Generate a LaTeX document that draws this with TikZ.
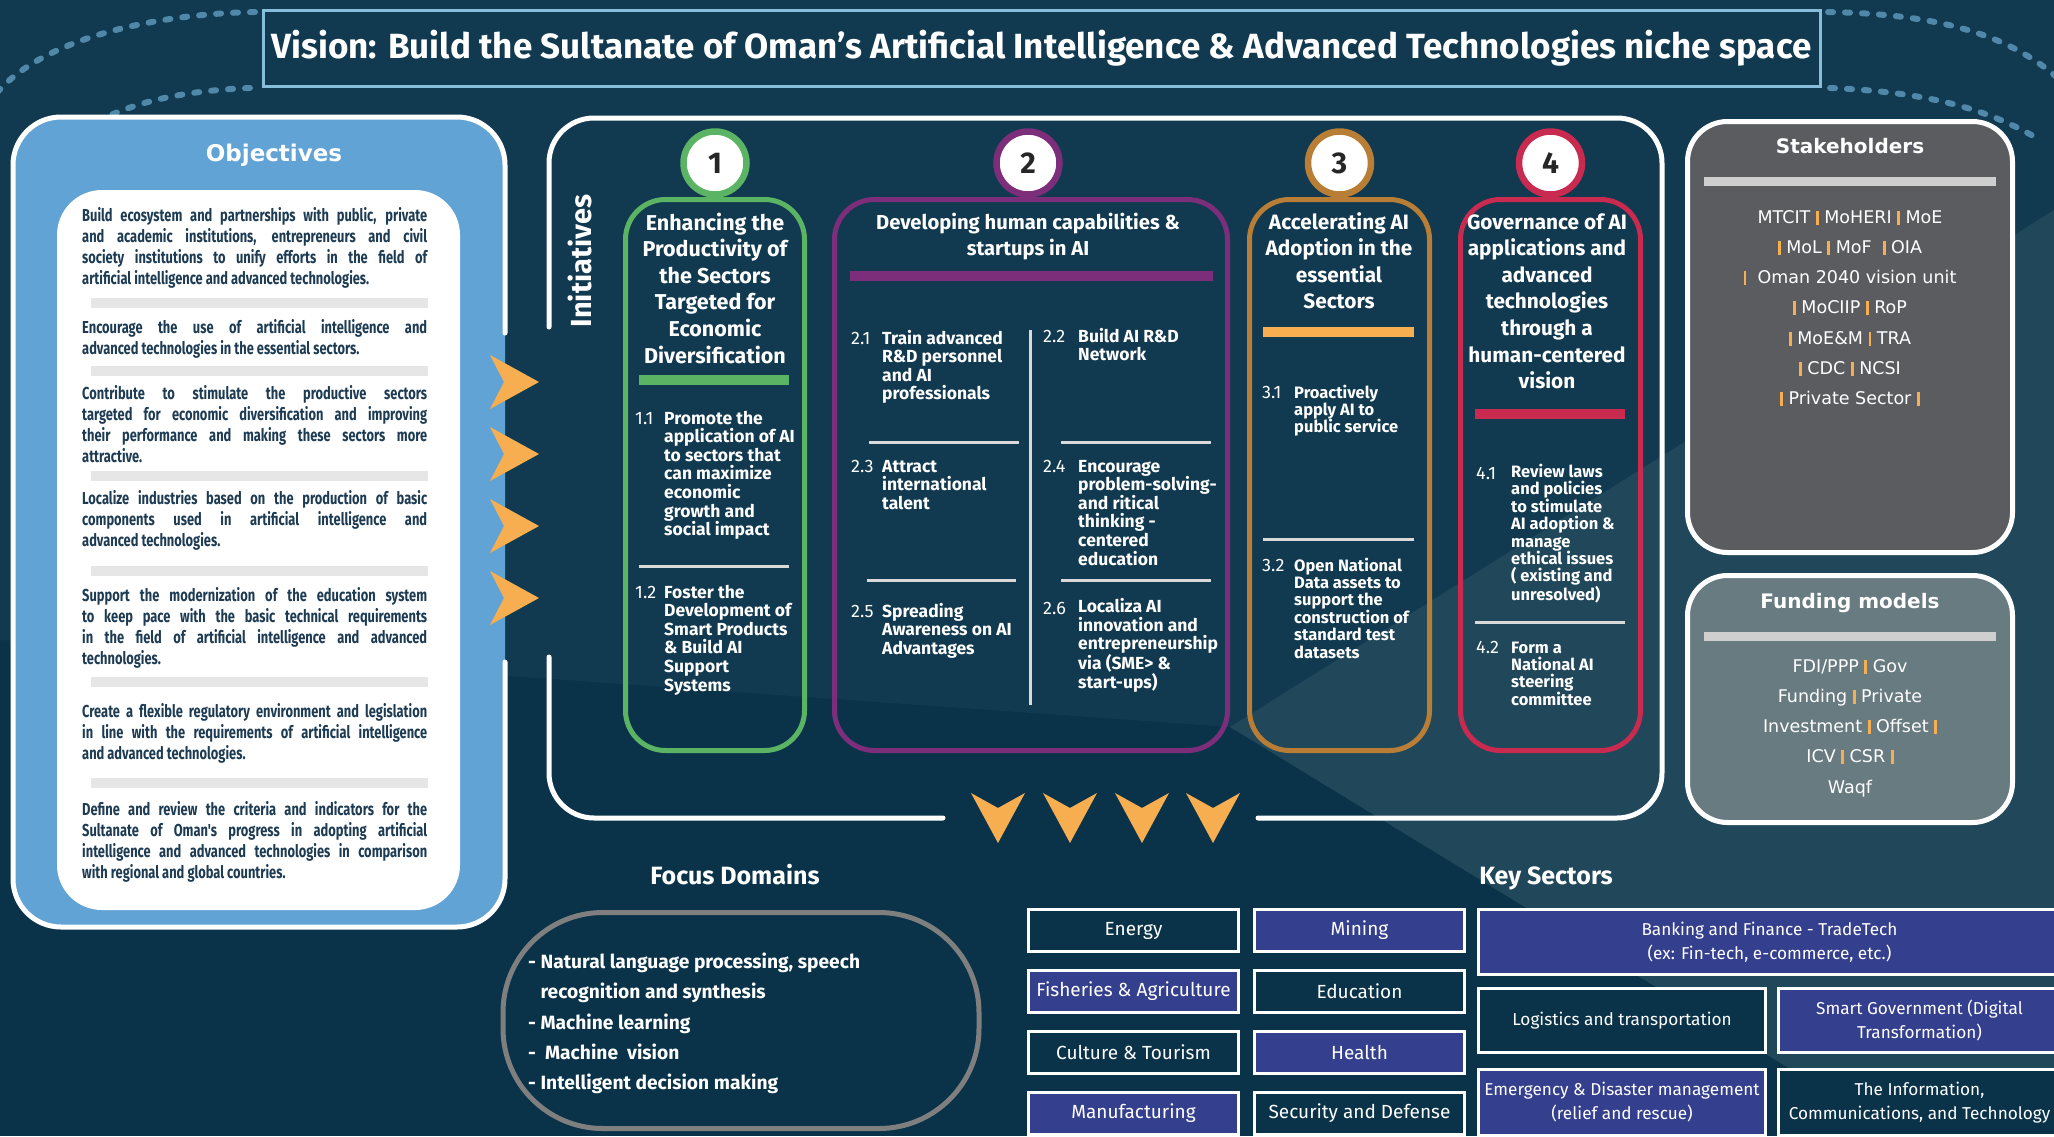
\documentclass[tikz,border=0pt]{standalone}
\usepackage{fontspec}
\setmainfont{Fira Sans}
\newfontfamily\objfont[FakeStretch=0.744]{Fira Sans}
\newfontfamily\widefont{DejaVu Sans}
\usepackage{tikz}
\usetikzlibrary{positioning}

\definecolor{bgdark}{HTML}{0A3349}
\definecolor{bgmid}{HTML}{11394F}
\definecolor{bglight}{HTML}{21475A}
\definecolor{dashblue}{HTML}{4F88A8}
\definecolor{titleline}{HTML}{86BDD8}
\definecolor{objblue}{HTML}{62A3D5}
\definecolor{objnavy}{HTML}{1D3B53}
\definecolor{bargrey}{HTML}{E6E6E6}
\definecolor{sepgrey}{HTML}{DADADA}
\definecolor{initgreen}{HTML}{5BB463}
\definecolor{initpurple}{HTML}{7D2E7B}
\definecolor{initbrown}{HTML}{B97E36}
\definecolor{initred}{HTML}{C92A50}
\definecolor{arroworange}{HTML}{F7AE50}
\definecolor{stakegrey}{HTML}{5B5C60}
\definecolor{fundgrey}{HTML}{687B80}
\definecolor{sidebar}{HTML}{CFCFCF}
\definecolor{focusgrey}{HTML}{7F7F7F}
\definecolor{secblue}{HTML}{343F8E}

\newcommand{\objline}[1]{\hbox to 345pt{#1}}
\newcommand{\orbar}{\textcolor{arroworange}{\rule[-1.5pt]{2.8pt}{14pt}}}

\begin{document}
\begin{tikzpicture}[x=1pt,y=-1pt]

  \tikzstyle{whiteline}=[draw=white,line width=5pt,line cap=round]
  \tikzstyle{dashline}=[draw=dashblue,line width=6pt,line cap=round,dash pattern=on 5pt off 12pt]
  \tikzstyle{visionbox}=[draw=titleline,line width=3pt,minimum width=1557pt,minimum height=76pt,inner sep=0pt,text=white,font=\bfseries\fontsize{35}{35}\selectfont]
  \tikzstyle{objtitle}=[anchor=base,inner sep=0pt,text=white,font=\widefont\bfseries\fontsize{23}{23}\selectfont]
  \tikzstyle{objpanel}=[fill=white,rounded corners=45pt,minimum width=403pt,minimum height=720pt,inner sep=0pt]
  \tikzstyle{objtext}=[anchor=base west,align=left,inner sep=0pt,text=objnavy,font=\objfont\bfseries\fontsize{17.3}{21.2}\selectfont]
  \tikzstyle{arrowfill}=[fill=arroworange]
  \tikzstyle{initlabel}=[rotate=90,inner sep=0pt,text=white,font=\bfseries\fontsize{29}{29}\selectfont]
  \tikzstyle{colbox}=[line width=5pt,rounded corners=40pt,minimum height=551pt,inner sep=0pt]
  \tikzstyle{numcirc}=[circle,fill=white,line width=6.5pt,minimum size=63pt,inner sep=0pt,text=black!85,font=\bfseries\fontsize{30}{30}\selectfont]
  \tikzstyle{colhead}=[anchor=base,align=center,inner sep=0pt,text=white,font=\bfseries\fontsize{20.8}{26.6}\selectfont]
  \tikzstyle{itemnum}=[anchor=base west,inner sep=0pt,text=white,font=\fontsize{18}{18}\selectfont]
  \tikzstyle{itemtext}=[anchor=base west,align=left,inner sep=0pt,text=white,font=\bfseries\fontsize{17.5}{18.6}\selectfont]
  \tikzstyle{itemtextb}=[itemtext,font=\bfseries\fontsize{16.5}{17.4}\selectfont]
  \tikzstyle{sepline}=[draw=sepgrey,line width=3pt]
  \tikzstyle{sidebox}=[draw=white,line width=5pt,rounded corners=40pt,minimum width=325pt,inner sep=0pt]
  \tikzstyle{sidetitle}=[anchor=base,inner sep=0pt,text=white,font=\widefont\bfseries\fontsize{20}{20}\selectfont]
  \tikzstyle{sidelist}=[anchor=base,align=center,inner sep=0pt,text=white,font=\widefont\fontsize{17.5}{30.3}\selectfont]
  \tikzstyle{sectitle}=[anchor=base,inner sep=0pt,text=white,font=\bfseries\fontsize{25}{25}\selectfont]
  \tikzstyle{focusbox}=[draw=focusgrey,line width=5pt,rounded corners=100pt,minimum width=476pt,minimum height=216pt,inner sep=0pt]
  \tikzstyle{focuslist}=[anchor=base west,align=left,inner sep=0pt,text=white,font=\bfseries\fontsize{19.2}{30.3}\selectfont]
  \tikzstyle{sectorcell}=[draw=white,line width=3pt,inner sep=0pt,align=center,text=white,font=\fontsize{19}{24}\selectfont]
  \tikzstyle{darksector}=[sectorcell,fill=bgdark,minimum width=210pt,minimum height=42pt]
  \tikzstyle{bluesector}=[sectorcell,fill=secblue,minimum width=210pt,minimum height=42pt]
  \tikzstyle{widesector}=[sectorcell,font=\fontsize{17.2}{24}\selectfont]

  % background
  \clip (0,0) rectangle (2054,1136);
  \fill[bgdark] (0,0) rectangle (2054,1136);
  \fill[bgmid] (0,0) -- (2054,0) -- (2054,210) -- (1230,727) -- (0,640) -- cycle;
  \fill[bglight] (1230,727) -- (2054,210) -- (2054,1230) -- cycle;

  % vision
  \draw[dashline] (255,12) .. controls (150,14) and (40,40) .. (-5,95);
  \draw[dashline] (250,88) .. controls (150,92) and (90,115) .. (45,160);
  \draw[dashline] (1828,12) .. controls (1940,14) and (2010,35) .. (2060,80);
  \draw[dashline] (1830,88) .. controls (1930,92) and (1990,110) .. (2040,140);
  \node[visionbox] (vision) at (1041.5,48) {Vision: Build the Sultanate of Oman's Artificial Intelligence \& Advanced Technologies niche space};

  % objectives (base anchor = last line)
  \fill[objblue,rounded corners=48pt] (13,117) rectangle (505,927);
  \draw[whiteline,rounded corners=48pt] (505,333) |- (13,117) |- (505,927) -- (505,662);
  \node[objpanel] (objpanel) at (258.5,550) {};
  \node[objtitle] (objtitle) at (274,161) {Objectives};
  \foreach \y in {303,371,476,571,682,783}
    \fill[bargrey] (91,\y-5) rectangle (428,\y+5);

  \node[objtext] (obj1) at (82,284.6) {\objline{Build ecosystem and partnerships with public, private}\\\objline{and academic institutions, entrepreneurs and civil}\\\objline{society institutions to unify efforts in the field of}\\artificial intelligence and advanced technologies.};
  \node[objtext] (obj2) at (82,354.2) {\objline{Encourage the use of artificial intelligence and}\\advanced technologies in the essential sectors.};
  \node[objtext] (obj3) at (82,462.6) {\objline{Contribute to stimulate the productive sectors}\\\objline{targeted for economic diversification and improving}\\\objline{their performance and making these sectors more}\\attractive.};
  \node[objtext] (obj4) at (82,546.4) {\objline{Localize industries based on the production of basic}\\\objline{components used in artificial intelligence and}\\advanced technologies.};
  \node[objtext] (obj5) at (82,664.6) {\objline{Support the modernization of the education system}\\\objline{to keep pace with the basic technical requirements}\\\objline{in the field of artificial intelligence and advanced}\\technologies.};
  \node[objtext] (obj6) at (82,759.4) {\objline{Create a flexible regulatory environment and legislation}\\\objline{in line with the requirements of artificial intelligence}\\and advanced technologies.};
  \node[objtext] (obj7) at (82,878.6) {\objline{Define and review the criteria and indicators for the}\\\objline{Sultanate of Oman's progress in adopting artificial}\\\objline{intelligence and advanced technologies in comparison}\\with regional and global countries.};

  % arrows
  \foreach \y in {382,454,526,598}
    \fill[arrowfill] (490,\y-27) -- (539,\y) -- (490,\y+27) -- (504,\y) -- cycle;
  \foreach \x in {998,1070,1142,1213}
    \fill[arrowfill] (\x-27,793) -- (\x,808) -- (\x+27,793) -- (\x,843) -- cycle;

  % initiatives
  \draw[whiteline,rounded corners=45pt] (549,327) |- (1662,118) |- (1258,818);
  \draw[whiteline,rounded corners=45pt] (943,818) -| (549,657);
  \node[initlabel] (initlabel) at (580,261) {Initiatives};

  % column 1
  \node[colbox,draw=initgreen,minimum width=179pt] (col1) at (715,475) {};
  \node[numcirc,draw=initgreen] (circ1) at ([yshift=34pt]col1.north) {1};
  \node[colhead,font=\bfseries\fontsize{21.5}{26.6}\selectfont] (head1) at (715,363) {Enhancing the\\Productivity of\\the Sectors\\Targeted for\\Economic\\Diversification};
  \fill[initgreen] (639,375) rectangle (789,385);
  \node[itemnum] (num11) at (635,424) {1.1};
  \node[itemtext] (item11) at (664,535.6) {Promote the\\application of AI\\to sectors that\\can maximize\\economic\\growth and\\social impact};
  \draw[sepline] (639,566) -- (789,566);
  \node[itemnum] (num12) at (635,598) {1.2};
  \node[itemtext] (item12) at (664,691) {Foster the\\Development of\\Smart Products\\\& Build AI\\Support\\Systems};

  % column 2
  \node[colbox,draw=initpurple,minimum width=393pt] (col2) at (1031,475) {};
  \node[numcirc,draw=initpurple] (circ2) at ([xshift=-3pt,yshift=34pt]col2.north) {2};
  \node[colhead,font=\bfseries\fontsize{20.2}{26.6}\selectfont] (head2) at (1028,255.6) {Developing human capabilities \&\\startups in AI};
  \fill[initpurple] (850,271) rectangle (1213,281);
  \draw[sepline] (1030,330) -- (1030,705);
  \node[itemnum] (num21) at (851,344) {2.1};
  \node[itemtext] (item21) at (882,399.8) {Train advanced\\R\&D personnel\\and AI\\professionals};
  \node[itemnum] (num22) at (1043,342) {2.2};
  \node[itemtext] (item22) at (1078,360.6) {Build AI R\&D\\Network};
  \draw[sepline] (869,442) -- (1019,442);
  \draw[sepline] (1061,442) -- (1211,442);
  \node[itemnum] (num23) at (851,472) {2.3};
  \node[itemtext] (item23) at (882,509.2) {Attract\\international\\talent};
  \node[itemnum] (num24) at (1043,472) {2.4};
  \node[itemtext] (item24) at (1078,565) {Encourage\\problem-solving-\\and ritical\\thinking -\\centered\\education};
  \draw[sepline] (867,580) -- (1016,580);
  \draw[sepline] (1061,580) -- (1211,580);
  \node[itemnum] (num25) at (851,617) {2.5};
  \node[itemtext] (item25) at (882,654.2) {Spreading\\Awareness on AI\\Advantages};
  \node[itemnum] (num26) at (1043,614) {2.6};
  \node[itemtext] (item26) at (1078,688.4) {Localiza AI\\innovation and\\entrepreneurship\\via (SME> \&\\start-ups)};

  % column 3
  \node[colbox,draw=initbrown,minimum width=180pt] (col3) at (1339.5,475) {};
  \node[numcirc,draw=initbrown] (circ3) at ([yshift=34pt]col3.north) {3};
  \node[colhead] (head3) at (1339,308.8) {Accelerating AI\\Adoption in the\\essential\\Sectors};
  \fill[arroworange] (1263,327) rectangle (1414,337);
  \node[itemnum] (num31) at (1262,398) {3.1};
  \node[itemtextb] (item31) at (1294,432.8) {Proactively\\apply AI to\\public service};
  \draw[sepline] (1263,539) -- (1414,539);
  \node[itemnum] (num32) at (1262,571) {3.2};
  \node[itemtextb] (item32) at (1294,658) {Open National\\Data assets to\\support the\\construction of\\standard test\\datasets};

  % column 4
  \node[colbox,draw=initred,minimum width=180pt] (col4) at (1550.5,475) {};
  \node[numcirc,draw=initred] (circ4) at ([yshift=34pt]col4.north) {4};
  \node[colhead] (head4) at (1547,388.6) {Governance of AI\\applications and\\advanced\\technologies\\through a\\human-centered\\vision};
  \fill[initred] (1475,409) rectangle (1625,419);
  \node[itemnum] (num41) at (1476,479) {4.1};
  \node[itemtextb] (item41) at (1511,600.8) {Review laws\\and policies\\to stimulate\\AI adoption \&\\manage\\ethical issues\\( existing and\\unresolved)};
  \draw[sepline] (1475,622) -- (1625,622);
  \node[itemnum] (num42) at (1476,653) {4.2};
  \node[itemtextb] (item42) at (1511,705.2) {Form a\\National AI\\steering\\committee};

  % stakeholders and funding
  \node[sidebox,fill=stakegrey,minimum height=431pt] (stakebox) at (1850,337) {};
  \node[sidetitle] (staketitle) at (1850,153) {Stakeholders};
  \fill[sidebar] (1704,176.5) rectangle (1996,185.5);
  \node[sidelist] (stakelist) at (1850,404.8) {MTCIT \orbar{} MoHERI \orbar{} MoE\\\orbar{} MoL \orbar{} MoF \ \orbar{} OIA\\\orbar{}\ \ Oman 2040 vision unit\\\orbar{} MoCIIP \orbar{} RoP\\\orbar{} MoE\&M \orbar{} TRA\\\orbar{} CDC \orbar{} NCSI\\\orbar{} Private Sector \orbar};

  \node[sidebox,fill=fundgrey,minimum height=247pt] (fundbox) at (1850,699) {};
  \node[sidetitle] (fundtitle) at (1850,608) {Funding models};
  \fill[sidebar] (1704,631.5) rectangle (1996,640.5);
  \node[sidelist] (fundlist) at (1850,793.2) {FDI/PPP \orbar{} Gov\\Funding \orbar{} Private\\Investment \orbar{} Offset \orbar\\ICV \orbar{} CSR \orbar\\Waqf};

  % focus domains
  \node[sectitle] (focustitle) at (735,884.5) {Focus Domains};
  \node[focusbox] (focusbox) at (741,1020.5) {};
  \node[focuslist] (focuslist) at (528,1089.7) {- Natural language processing, speech\\\hphantom{- }recognition and synthesis\\- Machine learning\\-\ \ Machine\ \ vision\\- Intelligent decision making};

  % key sectors
  \node[sectitle] (keytitle) at (1546,884.5) {Key Sectors};
  \node[darksector] (energy) at (1133.5,930.5) {Energy};
  \node[bluesector,right=13pt of energy] (mining) {Mining};
  \node[bluesector,below=16pt of energy] (fisheries) {Fisheries \& Agriculture};
  \node[darksector,right=13pt of fisheries] (education) {Education};
  \node[darksector,below=16pt of fisheries] (culture) {Culture \& Tourism};
  \node[bluesector,right=13pt of culture] (health) {Health};
  \node[bluesector,below=16pt of culture] (manufacturing) {Manufacturing};
  \node[darksector,right=13pt of manufacturing] (security) {Security and Defense};

  \node[widesector,fill=secblue,minimum width=582pt,minimum height=65pt] (banking) at (1769.5,942) {Banking and Finance - TradeTech\\(ex: Fin-tech, e-commerce, etc.)};
  \node[widesector,fill=bgdark,minimum width=287pt,minimum height=64pt] (logistics) at (1622,1020.5) {Logistics and transportation};
  \node[widesector,fill=secblue,minimum width=282pt,minimum height=64pt] (smartgov) at (1919.5,1020.5) {Smart Government (Digital\\Transformation)};
  \node[widesector,fill=secblue,minimum width=287pt,minimum height=66pt] (emergency) at (1622,1102.5) {Emergency \& Disaster management\\(relief and rescue)};
  \node[widesector,fill=bgdark,minimum width=282pt,minimum height=66pt] (ict) at (1919.5,1102.5) {The Information,\\Communications, and Technology};

\end{tikzpicture}
\end{document}
